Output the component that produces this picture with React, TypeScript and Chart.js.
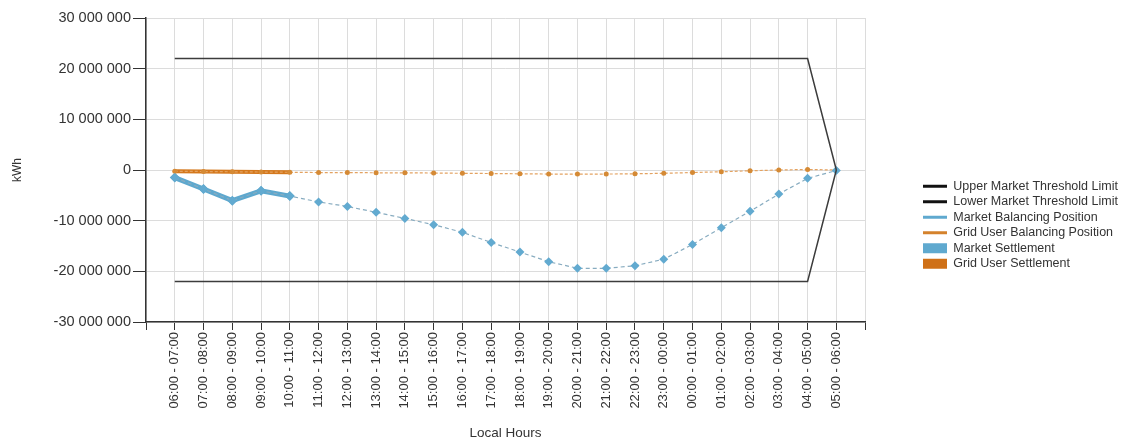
import React, { useEffect, useRef } from 'react';
import { Chart, registerables } from 'chart.js';

Chart.register(...registerables);

const HOURS = [
  '06:00 - 07:00', '07:00 - 08:00', '08:00 - 09:00', '09:00 - 10:00', '10:00 - 11:00', '11:00 - 12:00',
  '12:00 - 13:00', '13:00 - 14:00', '14:00 - 15:00', '15:00 - 16:00', '16:00 - 17:00', '17:00 - 18:00',
  '18:00 - 19:00', '19:00 - 20:00', '20:00 - 21:00', '21:00 - 22:00', '22:00 - 23:00', '23:00 - 00:00',
  '00:00 - 01:00', '01:00 - 02:00', '02:00 - 03:00', '03:00 - 04:00', '04:00 - 05:00', '05:00 - 06:00',
];

const UPPER_LIMIT = [
  22000000, 22000000, 22000000, 22000000, 22000000, 22000000, 22000000, 22000000,
  22000000, 22000000, 22000000, 22000000, 22000000, 22000000, 22000000, 22000000,
  22000000, 22000000, 22000000, 22000000, 22000000, 22000000, 22000000, 0,
];

const LOWER_LIMIT = [
  -22000000, -22000000, -22000000, -22000000, -22000000, -22000000, -22000000, -22000000,
  -22000000, -22000000, -22000000, -22000000, -22000000, -22000000, -22000000, -22000000,
  -22000000, -22000000, -22000000, -22000000, -22000000, -22000000, -22000000, 0,
];

const MARKET_BALANCING = [
  -1500000, -3750000, -6050000, -4100000, -5150000, -6300000, -7200000, -8350000,
  -9550000, -10800000, -12300000, -14300000, -16200000, -18100000, -19400000, -19400000,
  -18900000, -17600000, -14700000, -11400000, -8150000, -4750000, -1650000, -100000,
];

const GRID_BALANCING = [
  -250000, -300000, -350000, -400000, -450000, -500000, -500000, -550000,
  -550000, -600000, -650000, -700000, -750000, -800000, -800000, -800000,
  -750000, -650000, -500000, -350000, -150000, 0, 100000, 0,
];

const MARKET_SETTLEMENT = [
  -1500000, -3750000, -6050000, -4100000, -5150000, null, null, null,
  null, null, null, null, null, null, null, null,
  null, null, null, null, null, null, null, null,
];

const GRID_SETTLEMENT = [
  -250000, -300000, -350000, -400000, -450000, null, null, null,
  null, null, null, null, null, null, null, null,
  null, null, null, null, null, null, null, null,
];

const Y_MIN = -30000000;
const Y_MAX = 30000000;
const Y_STEP = 10000000;

const LEGEND_STYLES = [
  { color: '#111111', style: 'line', width: 3 },
  { color: '#111111', style: 'line', width: 3 },
  { color: '#5fa9cf', style: 'line', width: 3 },
  { color: '#d4822c', style: 'line', width: 3 },
  { color: '#5fa9cf', style: 'rect', width: 0 },
  { color: '#cf7017', style: 'rect', width: 0 },
];

const FONT = "'Liberation Sans', Arial, sans-serif";
const LEGEND_LEFT = 920;
const LEGEND_TOP = 10;
const LEGEND_BOTTOM = 440;

const pad = (arr: (number | null)[]) => [null, ...arr, null];

const formatKwh = (v: number) => {
  const s = String(Math.abs(v)).replace(/\B(?=(\d{3})+(?!\d))/g, ' ');
  return v < 0 ? '-' + s : s;
};

const legendPlacer = {
  id: 'legendPlacer',
  afterLayout(chart: any) {
    const l = chart.legend;
    if (!l) return;
    const w = l.right - l.left;
    l.left = LEGEND_LEFT;
    l.right = LEGEND_LEFT + w;
    l.top = LEGEND_TOP;
    l.bottom = LEGEND_BOTTOM;
  },
};

export default function App() {
  const ref = useRef<HTMLCanvasElement>(null);

  useEffect(() => {
    document.body.style.margin = '0';
    const chart = new Chart(ref.current as HTMLCanvasElement, {
      type: 'line',
      data: {
        labels: ['', ...HOURS, ''],
        datasets: [
          {
            label: 'Upper Market Threshold Limit',
            data: pad(UPPER_LIMIT),
            borderColor: '#3c3c3c',
            borderWidth: 1.5,
            pointRadius: 0,
            tension: 0,
          },
          {
            label: 'Lower Market Threshold Limit',
            data: pad(LOWER_LIMIT),
            borderColor: '#3c3c3c',
            borderWidth: 1.5,
            pointRadius: 0,
            tension: 0,
          },
          {
            label: 'Market Balancing Position',
            data: pad(MARKET_BALANCING),
            borderColor: '#88acc0',
            borderWidth: 1.2,
            borderDash: [4, 3],
            pointStyle: 'rectRot',
            pointRadius: 4.5,
            pointBackgroundColor: '#62aad0',
            pointBorderColor: '#62aad0',
            pointBorderWidth: 0,
            tension: 0,
          },
          {
            label: 'Grid User Balancing Position',
            data: pad(GRID_BALANCING),
            borderColor: '#e3a261',
            borderWidth: 1.2,
            borderDash: [3, 2],
            pointStyle: 'circle',
            pointRadius: 2.5,
            pointBackgroundColor: '#d58a35',
            pointBorderColor: '#d58a35',
            pointBorderWidth: 0,
            tension: 0,
          },
          {
            label: 'Market Settlement',
            data: pad(MARKET_SETTLEMENT),
            borderColor: '#5ea8ce',
            borderWidth: 5,
            pointStyle: 'rectRot',
            pointRadius: 5,
            pointBackgroundColor: '#5ea8ce',
            pointBorderColor: '#5ea8ce',
            pointBorderWidth: 0,
            tension: 0,
          },
          {
            label: 'Grid User Settlement',
            data: pad(GRID_SETTLEMENT),
            borderColor: '#d4781c',
            borderWidth: 4,
            pointRadius: 0,
            tension: 0,
          },
        ],
      },
      options: {
        animation: false,
        responsive: true,
        maintainAspectRatio: false,
        layout: { padding: { top: 18, right: 60, left: 0, bottom: 0 } },
        plugins: {
          tooltip: { enabled: false },
          legend: {
            position: 'right',
            labels: {
              usePointStyle: true,
              pointStyleWidth: 24,
              boxHeight: 10,
              padding: 3,
              color: '#333333',
              font: { family: FONT, size: 12.5 },
              generateLabels: (c: any) =>
                c.data.datasets.map((ds: any, i: number) => ({
                  text: ds.label,
                  fillStyle: LEGEND_STYLES[i].color,
                  strokeStyle: LEGEND_STYLES[i].color,
                  lineWidth: LEGEND_STYLES[i].width,
                  pointStyle: LEGEND_STYLES[i].style,
                  fontColor: '#333333',
                  hidden: false,
                  datasetIndex: i,
                })),
            },
          },
        },
        scales: {
          x: {
            type: 'category',
            offset: false,
            grid: { color: '#dcdcdc', tickColor: '#333333', tickLength: 8, offset: false },
            border: { color: '#333333', width: 1.5 },
            ticks: {
              autoSkip: false,
              minRotation: 90,
              maxRotation: 90,
              padding: 2,
              color: '#333333',
              font: { family: FONT, size: 13 },
            },
            title: {
              display: true,
              text: 'Local Hours',
              color: '#333333',
              font: { family: FONT, size: 13.5 },
              padding: { top: 4, bottom: 7 },
            },
            afterFit: (s: any) => {
              s.height = 126;
            },
          },
          y: {
            min: Y_MIN,
            max: Y_MAX,
            ticks: {
              stepSize: Y_STEP,
              callback: (v: any) => formatKwh(Number(v)),
              color: '#333333',
              font: { family: FONT, size: 14.5 },
              padding: 2,
            },
            grid: { color: '#dcdcdc', tickColor: '#333333', tickLength: 13 },
            border: { color: '#333333', width: 1.5 },
            title: {
              display: true,
              text: 'kWh',
              color: '#333333',
              font: { family: FONT, size: 12 },
              padding: { top: 10, bottom: 4 },
            },
            afterFit: (s: any) => {
              s.width = 146;
            },
          },
        },
      },
      plugins: [legendPlacer],
    } as any);
    return () => chart.destroy();
  }, []);

  return (
    <div style={{ position: 'fixed', left: 0, top: 0, width: 1133, height: 448, background: '#fff' }}>
      <canvas ref={ref} />
    </div>
  );
}
